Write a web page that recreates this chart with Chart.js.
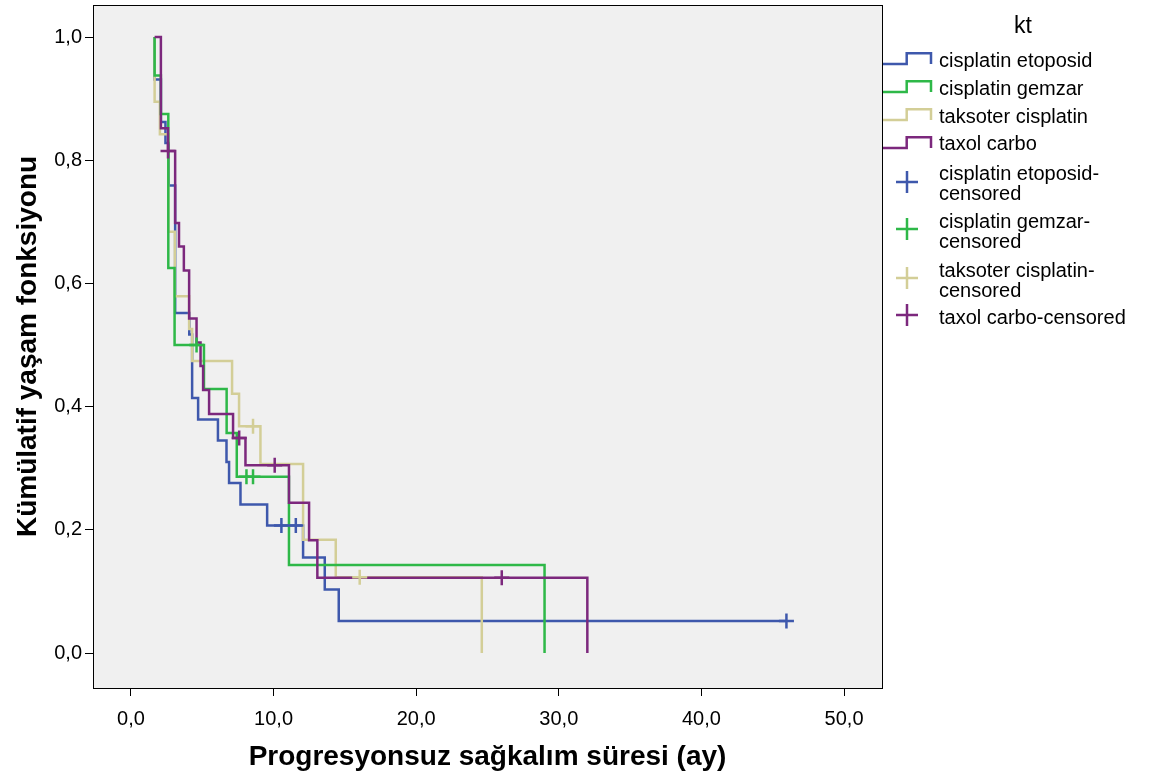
<!DOCTYPE html>
<html><head><meta charset="utf-8">
<script src="https://cdn.jsdelivr.net/npm/chart.js@4.4.1/dist/chart.umd.min.js"></script>
<style>
html,body{margin:0;padding:0;background:#fff;}
#wrap{position:relative;width:1161px;height:783px;font-family:"Liberation Sans",Arial,sans-serif;overflow:hidden;}
#c{position:absolute;left:0;top:0;}
.lg{position:absolute;left:939px;font-size:20px;line-height:20px;color:#000;white-space:nowrap;}
.ic{position:absolute;}
</style></head>
<body><div id="wrap"><canvas id="c" width="1161" height="783"></canvas><div id="legend"></div></div>
<script>
// ---- data ----
const groups = ['cisplatin etoposid', 'cisplatin gemzar', 'taksoter cisplatin', 'taxol carbo'];
const colors = ['#3E58AC', '#2EB848', '#D3CE97', '#7C287D'];

const etoTime = [1.66, 1.66, 2.1, 2.42, 2.65, 3.1, 4.09, 4.29, 4.71, 6.1, 6.7, 6.88, 7.68, 9.55, 12.07, 13.59, 14.57, 45.96];
const etoSurv = [1.0, 0.931, 0.862, 0.828, 0.759, 0.552, 0.517, 0.414, 0.379, 0.345, 0.310, 0.276, 0.241, 0.207, 0.155, 0.103, 0.052, 0.052];
const etoCensTime = [10.55, 11.56, 45.96];
const etoCensSurv = [0.207, 0.207, 0.052];

const gemTime = [1.66, 1.66, 2.1, 2.62, 3.06, 5.12, 6.71, 7.42, 11.08, 29.0];
const gemSurv = [1.0, 0.9375, 0.875, 0.625, 0.5, 0.4286, 0.357, 0.286, 0.143, 0];
const gemCensTime = [4.6, 8.1, 8.56];
const gemCensSurv = [0.5, 0.286, 0.286];

const takTime = [1.66, 1.66, 2.03, 2.62, 3.08, 4.08, 4.29, 7.09, 7.58, 9.08, 12.07, 14.36, 24.6];
const takSurv = [1.0, 0.895, 0.842, 0.684, 0.579, 0.526, 0.474, 0.421, 0.368, 0.307, 0.184, 0.123, 0];
const takCensTime = [8.56, 16.04];
const takCensSurv = [0.368, 0.123];

const taxTime = [1.66, 2.1, 2.6, 3.1, 3.37, 3.71, 4.08, 4.6, 4.88, 5.06, 5.48, 7.16, 8.03, 11.08, 12.49, 13.07, 32.0];
const taxSurv = [1.0, 0.852, 0.815, 0.698, 0.660, 0.621, 0.543, 0.504, 0.466, 0.427, 0.388, 0.349, 0.305, 0.244, 0.183, 0.122, 0];
const taxCensTime = [2.6, 7.59, 10.08, 26.0];
const taxCensSurv = [0.815, 0.349, 0.305, 0.122];

const xTicks = [0, 10, 20, 30, 40, 50];
const xTickLabels = ['0,0', '10,0', '20,0', '30,0', '40,0', '50,0'];
const yTicks = [0, 0.2, 0.4, 0.6, 0.8, 1.0];
const yTickLabels = ['0,0', '0,2', '0,4', '0,6', '0,8', '1,0'];

const xTitle = 'Progresyonsuz sağkalım süresi (ay)';
const yTitle = 'Kümülatif yaşam fonksiyonu';
const legendTitle = 'kt';
const censoredSuffix = '-censored';

// ---- build datasets ----
const FAM = '"Liberation Sans", Arial, sans-serif';
const pts = (t, s) => t.map((v, i) => ({x: v, y: s[i]}));
const lineSets = [
  [etoTime, etoSurv], [gemTime, gemSurv], [takTime, takSurv], [taxTime, taxSurv]
];
const censSets = [
  [etoCensTime, etoCensSurv], [gemCensTime, gemCensSurv], [takCensTime, takCensSurv], [taxCensTime, taxCensSurv]
];
// drawing order: blue bottom, tan, green, purple top
const lineOrder = [13, 11, 12, 10];
const datasets = [];
lineSets.forEach((d, i) => {
  datasets.push({
    label: groups[i], type: 'line', data: pts(d[0], d[1]),
    borderColor: colors[i], borderWidth: 2.5, stepped: 'before',
    pointRadius: 0, fill: false, order: lineOrder[i]
  });
});
censSets.forEach((d, i) => {
  datasets.push({
    label: groups[i] + censoredSuffix, type: 'scatter', data: pts(d[0], d[1]),
    borderColor: colors[i], backgroundColor: colors[i], pointStyle: 'cross',
    pointRadius: 7.5, pointBorderWidth: 2.5, showLine: false, order: lineOrder[i] - 10
  });
});

const framePlugin = {
  id: 'frame',
  beforeDraw(chart) {
    const {ctx, chartArea: a} = chart;
    ctx.save(); ctx.fillStyle = '#F0F0F0';
    ctx.fillRect(a.left, a.top, a.right - a.left, a.bottom - a.top);
    ctx.restore();
  },
  afterDraw(chart) {
    const {ctx, chartArea: a} = chart;
    ctx.save(); ctx.strokeStyle = '#000'; ctx.lineWidth = 1;
    ctx.strokeRect(Math.round(a.left) + 0.5, Math.round(a.top) + 0.5, Math.round(a.right - a.left), Math.round(a.bottom - a.top));
    ctx.restore();
  }
};

new Chart(document.getElementById('c'), {
  type: 'line',
  data: {datasets},
  options: {
    responsive: false, animation: false, devicePixelRatio: 1,
    layout: {autoPadding: false, padding: {left: 0, right: 279, top: 5, bottom: 0}},
    plugins: {legend: {display: false}, tooltip: {enabled: false}},
    scales: {
      x: {
        type: 'linear', min: -2.66, max: 52.66,
        afterBuildTicks: s => { s.ticks = xTicks.map(v => ({value: v})); },
        afterFit: s => { s.height = 95; s.paddingLeft = 0; s.paddingRight = 0; },
        ticks: {callback: (v, i) => xTickLabels[i], color: '#000', font: {size: 20, family: FAM}, padding: 11, maxRotation: 0, autoSkip: false},
        grid: {drawOnChartArea: false, drawTicks: true, tickLength: 8, color: '#000', lineWidth: 1},
        border: {display: true, color: '#000', width: 1},
        title: {display: true, text: xTitle, color: '#000', font: {size: 28, weight: 'bold', family: FAM}, padding: {top: 0, bottom: 9}}
      },
      y: {
        type: 'linear', min: -0.0568, max: 1.052,
        afterBuildTicks: s => { s.ticks = yTicks.map(v => ({value: v})); },
        afterFit: s => { s.width = 93; s.paddingTop = 0; s.paddingBottom = 0; },
        ticks: {callback: (v, i) => yTickLabels[i], color: '#000', font: {size: 20, family: FAM}, padding: 3, autoSkip: false},
        grid: {drawOnChartArea: false, drawTicks: true, tickLength: 8, color: '#000', lineWidth: 1},
        border: {display: true, color: '#000', width: 1},
        title: {display: true, text: yTitle, color: '#000', font: {size: 28, weight: 'bold', family: FAM}, padding: {top: 11, bottom: 0}}
      }
    }
  },
  plugins: [framePlugin]
});

// ---- HTML legend ----
const lg = document.getElementById('legend');
function add(html) { lg.insertAdjacentHTML('beforeend', html); }
add(`<div class="lg" style="left:990px;width:66px;text-align:center;top:12px;font-size:23px;line-height:26px;">${legendTitle}</div>`);
const stepTops = [51, 79, 107, 134.7];
const textCenters = [60, 88, 116, 143];
groups.forEach((g, i) => {
  add(`<svg class="ic" style="left:881px;top:${stepTops[i]}px" width="54" height="16"><path d="M2 13 H25.7 V2.3 H50 V13" fill="none" stroke="${colors[i]}" stroke-width="2.5"/></svg>`);
  add(`<div class="lg" style="top:${textCenters[i] - 10}px">${g}</div>`);
});
const crossCenters = [181.7, 229.3, 278.3, 315];
const censTextTops = [163, 211, 260, 306.7];
groups.forEach((g, i) => {
  add(`<svg class="ic" style="left:${907.3 - 12}px;top:${crossCenters[i] - 12}px" width="24" height="24"><path d="M1 12 H23 M12 1 V23" fill="none" stroke="${colors[i]}" stroke-width="2.5"/></svg>`);
  const txt = i < 3 ? `${g}-<br>censored` : `${g}${censoredSuffix}`;
  add(`<div class="lg" style="top:${censTextTops[i]}px">${txt}</div>`);
});
</script>
</body></html>
